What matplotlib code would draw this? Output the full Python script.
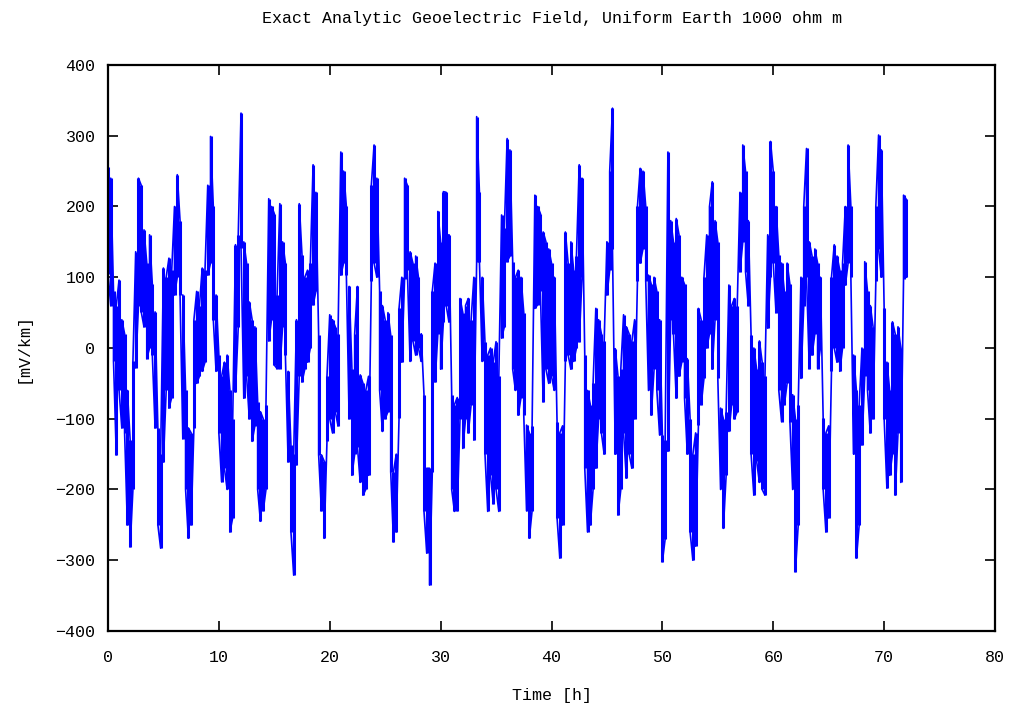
import numpy as np
import matplotlib.pyplot as plt

# geoelectric field, one row per hour (bins at +0, +0.25, +0.5, +0.75 h)
# each bin keeps the upper and lower edge of the trace within it
t_step = 0.25
e_hi = [
    256, 240, 80, 60,      96, 40, 20, -60,       -130, -19, 136, 240,     230, 167, 120, 160,
    90, 51, -113, -150,    113, 100, 127, 110,    200, 245, 180, 75,       -60, -113, -120, 40,
    80, 60, 113, 110,      230, 299, 200, 75,     -10, -40, -20, -10,      -60, -100, 146, 160,
    332, 150, 120, 65,     40, 30, -76, -90,      -100, -80, 211, 200,     190, 75, 204, 150,
    120, -33, -137, -150,  40, 204, 131, 100,     110, 120, 259, 220,      18, -151, -160, -40,
    47, 40, 30, 20,        277, 250, 200, 87,     -29, 20, 87, -38,        -50, -60, -40, 230,
    287, 240, 80, 60,      40, 50, 18, -175,      -150, 56, 100, 240,      230, 136, 120, 130,
    100, 20, -66, -170,    -170, 80, 120, 193,    150, 221, 220, 160,      -66, -80, -70, 70,
    50, 60, 70, 40,        100, 327, 220, 100,    9, -10, 0, -20,          9, -40, 188, 170,
    296, 280, 122, 100,    110, 100, 50, -109,    -120, -110, 216, 200,    190, 164, 150, 140,
    120, 100, -104, -120,  -110, 164, 120, 150,   110, 130, 259, 240,      -10, -60, -80, -50,
    56, 40, 20, 10,        150, 250, 339, -1,     -40, -30, 47, 30,        20, 10, 40, 200,
    254, 250, 200, 103,    90, 100, 80, 40,       -123, -130, 277, 180,    150, 183, 160, 100,
    90, -15, -100, -150,   -120, 56, 40, 100,     160, 200, 235, 180,      150, -85, -100, -90,
    89, 60, 70, 60,        220, 287, 250, 180,    18, 0, -30, 10,          -20, -40, 160, 292,
    250, 200, 131, 120,    80, 120, 90, -66,      -100, -80, 100, 200,     282, 150, 130, 140,
    120, 100, -99, -120,   -110, 100, 146, 130,   110, 120, 200, 287,      200, -10, -60, -80,
    0, 122, 80, 60,        30, 200, 301, 280,     56, -20, -60, 37,        20, 30, 0, 216,
    210,
]
e_lo = [
    105, 60, -19, -151,    -60, -113, -120, -250,  -281, -200, -28, 60,    51, 30, -15, 0,
    -10, -113, -250, -283, -161, -60, -85, -70,    75, 100, 75, -128,      -200, -269, -250, -113,
    -50, -40, -33, -20,    103, 120, 40, -33,      -120, -189, -170, -200, -260, -240, -62, 30,
    141, -71, -40, -100,   -132, -110, -200, -245, -230, -200, 10, 40,     -24, -29, -29, 30,
    -10, -161, -260, -321, -165, -40, -48, -30,    -20, 0, 61, 80,         -151, -230, -269, -132,
    -100, -120, -90, -110, 103, 120, 103, -100,    -180, -150, -140, -190, -208, -200, -180, 94,
    120, 100, -60, -118,   -100, -90, -175, -274,  -260, -99, -20, 98,     110, -19, 10, -10,
    0, -19, -231, -290,    -335, -175, -48, 20,    -30, 37, 60, 37,        -200, -231, -230, -100,
    -142, -100, -120, -80, -130, 122, 122, -19,    -150, -231, -180, -220, -200, -231, 14, 30,
    122, 130, -30, -60,    -95, -70, -95, -230,    -269, -230, 56, 61,     80, -76, -30, -50,
    -40, -60, -240, -297,  -250, -19, -10, -30,    -19, 0, 9, 100,         -170, -260, -250, -200,
    -170, -100, -120, -150, 75, 110, 140, -150,    -236, -200, -120, -184, -150, -170, -100, 94,
    120, 140, 94, -60,     -95, -30, -60, -123,    -302, -270, -146, 40,   20, -71, -40, -20,
    -71, -150, -260, -300, -280, -109, -80, -43,   0, 20, -30, 40,         -43, -200, -255, -180,
    -118, -80, -100, -90,  108, 150, 108, 60,      -150, -208, -160, -190, -200, -208, 28, 100,
    120, 50, -60, -104,    -80, -50, -104, -200,   -316, -250, -43, 60,    100, -29, -10, 20,
    -29, 0, -200, -260,    -240, -33, 0, -20,      -33, 0, 89, 120,        100, -150, -297, -250,
    -137, -40, -60, -120,  -100, 94, 140, 100,     -100, -198, -180, -150, -208, -120, -190, 98,
    100,
]

hi = np.array(e_hi, dtype=float)
lo = np.array(e_lo, dtype=float)
t = np.arange(len(hi)) * t_step

# trace each bin as a vertical stroke, alternating direction so bins join at one edge
tt = np.repeat(t, 2)
yy = np.empty(2 * len(t))
for i in range(len(t)):
    if i % 2 == 0:
        yy[2 * i], yy[2 * i + 1] = hi[i], lo[i]
    else:
        yy[2 * i], yy[2 * i + 1] = lo[i], hi[i]

plt.rcParams['font.family'] = ['Liberation Mono', 'DejaVu Sans Mono']

fig = plt.figure(figsize=(10.11, 7.15), dpi=100)
ax = fig.add_axes([0.1068, 0.1175, 0.8774, 0.7916])
ax.vlines(t, lo, hi, color='#0000ff', lw=2.2)
ax.plot(tt, yy, color='#0000ff', lw=1.2)

ax.set_xlim(0, 80)
ax.set_ylim(-400, 400)
ax.set_xticks(np.arange(0, 81, 10))
ax.set_yticks(np.arange(-400, 401, 100))
ax.tick_params(direction='in', length=7, width=1.2, top=True, right=True, labelsize=12)
ax.tick_params(axis='x', pad=14)
ax.tick_params(axis='y', pad=9)
for s in ax.spines.values():
    s.set_linewidth(1.6)

ax.set_title('Exact Analytic Geoelectric Field, Uniform Earth 1000 ohm m', fontsize=12, pad=30)
ax.set_xlabel('Time [h]', fontsize=12, labelpad=16)
ax.set_ylabel('[mV/km]', fontsize=12, labelpad=18)

fig.savefig('out.png', dpi=100)
